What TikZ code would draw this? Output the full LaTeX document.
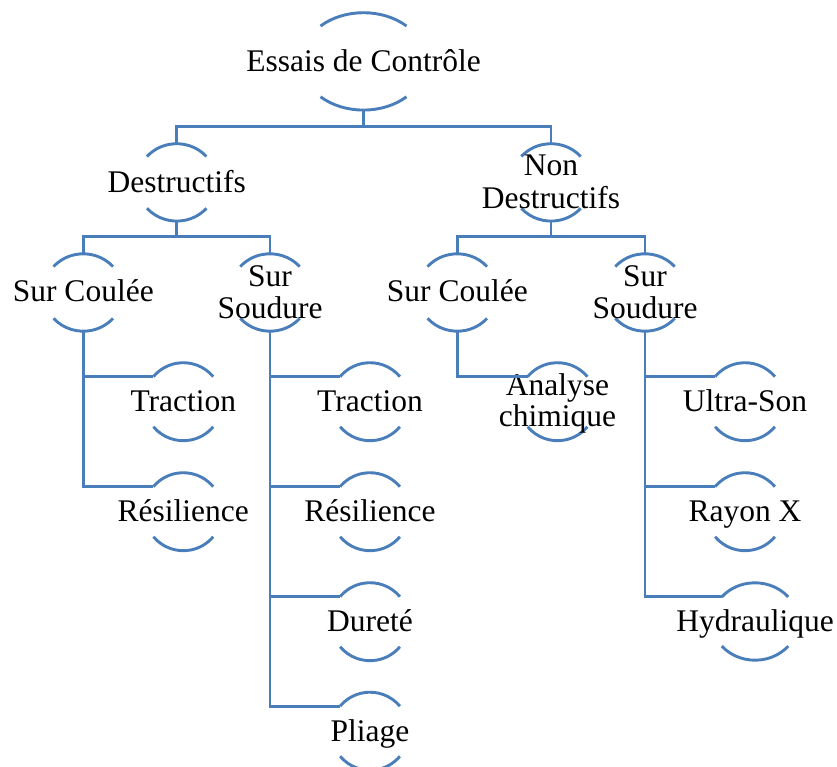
\documentclass[tikz,border=0pt]{standalone}
\usepackage{fontspec}
\setmainfont{Liberation Serif}
\usetikzlibrary{shapes.geometric}
\definecolor{lineblue}{HTML}{4A7EBB}
\newcommand\ovarcs[4]{%
  \draw[arcl] (#1.center) ++(#4:#2pt and #3pt) arc[start angle=#4, end angle=180-#4, x radius=#2pt, y radius=#3pt];
  \draw[arcl] (#1.center) ++(180+#4:#2pt and #3pt) arc[start angle=180+#4, end angle=360-#4, x radius=#2pt, y radius=#3pt];
  \path (#1.center) ++(180-#4:#2pt and #3pt) coordinate (#1-tl);
}
\begin{document}
\begin{tikzpicture}[x=1pt,y=1pt,
  shp/.style={ellipse, draw=none, inner sep=0pt, outer sep=0pt},
  big/.style={shp, minimum width=125.2pt, minimum height=97.4pt},
  mid/.style={shp, minimum width=80pt, minimum height=77.4pt},
  sml/.style={shp, minimum width=78pt, minimum height=78pt},
  wide/.style={shp, minimum width=86pt, minimum height=77.4pt},
  arcl/.style={draw=lineblue, line width=2.9pt},
  conn/.style={draw=lineblue, line width=2.9pt},
  lbl/.style={inner sep=0pt, anchor=base, align=center, font=\fontsize{31.5}{33}\selectfont}]
\useasboundingbox (0,0) rectangle (837,-767);
% shapes
\node[big] (root) at (363.5,-61.4) {};
\node[mid] (D) at (176.7,-182.4) {};
\node[mid] (ND) at (551,-182.4) {};
\node[mid] (SC1) at (83.3,-292.5) {};
\node[mid] (SS1) at (270,-292.5) {};
\node[mid] (SC2) at (457.3,-292.5) {};
\node[mid] (SS2) at (645,-292.5) {};
\node[sml] (T1) at (183.3,-401.7) {};
\node[sml] (R1) at (183.3,-511.7) {};
\node[sml] (T2) at (370,-401.7) {};
\node[sml] (R2) at (370,-511.7) {};
\node[sml] (Du) at (370,-621.7) {};
\node[sml] (P) at (370,-731.2) {};
\node[sml] (AC) at (557.5,-401.7) {};
\node[sml] (US) at (745,-401.7) {};
\node[sml] (RX) at (745,-511.7) {};
\node[wide] (H) at (755,-621.5) {};
% arcs
\ovarcs{root}{62.6}{48.7}{46.6}
\ovarcs{D}{40}{38.7}{42}
\ovarcs{ND}{40}{38.7}{42}
\ovarcs{SC1}{40}{38.7}{42}
\ovarcs{SS1}{40}{38.7}{42}
\ovarcs{SC2}{40}{38.7}{42}
\ovarcs{SS2}{40}{38.7}{42}
\ovarcs{T1}{39}{39}{40}
\ovarcs{R1}{39}{39}{40}
\ovarcs{T2}{39}{39}{40}
\ovarcs{R2}{39}{39}{40}
\ovarcs{Du}{39}{39}{40}
\ovarcs{P}{39}{39}{40}
\ovarcs{AC}{39}{39}{40}
\ovarcs{US}{39}{39}{40}
\ovarcs{RX}{39}{39}{40}
\ovarcs{H}{43}{38.7}{39.5}
% labels
\node[lbl] (root-t) at (363.5,-71.7) {Essais de Contrôle};
\node[lbl] (D-t) at (176.7,-192.7) {Destructifs};
\node[lbl, font=\fontsize{31.5}{33.5}\selectfont] (ND-t) at (551,-209) {Non\\Destructifs};
\node[lbl] (SC1-t) at (83.3,-301.7) {Sur Coulée};
\node[lbl, font=\fontsize{31.5}{32.3}\selectfont] (SS1-t) at (270,-318.3) {Sur\\Soudure};
\node[lbl] (SC2-t) at (457.3,-301.7) {Sur Coulée};
\node[lbl, font=\fontsize{31.5}{32.3}\selectfont] (SS2-t) at (645,-318.3) {Sur\\Soudure};
\node[lbl] (T1-t) at (183.3,-411.7) {Traction};
\node[lbl] (R1-t) at (183.3,-521.7) {Résilience};
\node[lbl] (T2-t) at (370,-411.7) {Traction};
\node[lbl] (R2-t) at (370,-521.7) {Résilience};
\node[lbl] (Du-t) at (370,-631.7) {Dureté};
\node[lbl] (P-t) at (370,-741.7) {Pliage};
\node[lbl, font=\fontsize{31.5}{31}\selectfont] (AC-t) at (557.5,-426) {Analyse\\chimique};
\node[lbl] (US-t) at (745,-411.7) {Ultra-Son};
\node[lbl] (RX-t) at (745,-521.7) {Rayon X};
\node[lbl] (H-t) at (755,-631.7) {Hydraulique};
% connectors
\draw[conn] (root.south) -- ++(0,-16.5) -| (D.north);
\draw[conn] (root.south) -- ++(0,-16.5) -| (ND.north);
\draw[conn] (D.south) -- ++(0,-15.8) -| (SC1.north);
\draw[conn] (D.south) -- ++(0,-15.8) -| (SS1.north);
\draw[conn] (ND.south) -- ++(0,-15.8) -| (SC2.north);
\draw[conn] (ND.south) -- ++(0,-15.8) -| (SS2.north);
\draw[conn] (SC1.south) |- (T1-tl);
\draw[conn] (SC1.south) |- (R1-tl);
\draw[conn] (SS1.south) |- (T2-tl);
\draw[conn] (SS1.south) |- (R2-tl);
\draw[conn] (SS1.south) |- (Du-tl);
\draw[conn] (SS1.south) |- (P-tl);
\draw[conn] (SC2.south) |- (AC-tl);
\draw[conn] (SS2.south) |- (US-tl);
\draw[conn] (SS2.south) |- (RX-tl);
\draw[conn] (SS2.south) |- (H-tl);
\end{tikzpicture}
\end{document}
